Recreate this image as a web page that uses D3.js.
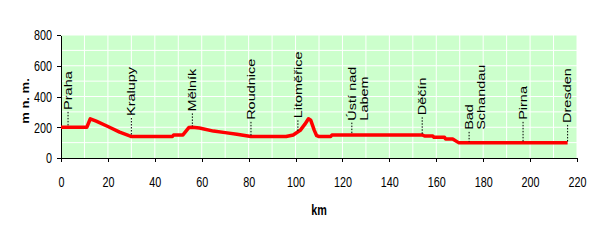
<!DOCTYPE html>
<html>
<head>
<meta charset="utf-8">
<script src="https://cdn.jsdelivr.net/npm/d3@7"></script>
<style>
    body { margin: 0; background: #ffffff; }
    svg { display: block; font-family: "Liberation Sans", Arial, sans-serif; }
    .axis path, .axis line { stroke: #000000; shape-rendering: crispEdges; }
    .axis text { font-size: 15px; fill: #000000; }
</style>
</head>
<body>
<svg id="chart" width="600" height="245"></svg>
<script>
// --- profile data (km from Praha, m above sea level) ---
const profileKm = [0, 11, 12.5, 15, 20, 25, 29, 30, 47.5, 48, 52, 54.5, 56, 59, 65, 70, 75, 81,
    96, 99, 102, 104, 105.5, 106.5, 108, 109, 110, 115, 115.5, 154, 155, 158.5, 159, 163.5, 164, 167, 169.5, 216];
const profileAlt = [200, 200, 255, 240, 205, 168, 145, 140, 140, 150, 150, 198, 200, 195, 175, 165, 155, 140,
    140, 150, 180, 220, 255, 245, 180, 145, 140, 140, 150, 150, 143, 143, 135, 135, 123, 123, 100, 100];

// --- towns along the route ---
const towns = [["Praha"], ["Kralupy"], ["Mělník"], ["Roudnice"], ["Litoměřice"],
    ["Ústí nad", "Labem"], ["Děčín"], ["Bad", "Schandau"], ["Pirna"], ["Dresden"]];
const townKm = [3, 30, 56, 81, 101, 124, 154, 174, 197, 216];
const labelAlt = [300, 260, 290, 235, 245, 230, 265, 170, 235, 215];

// --- axis ticks ---
const xTicks = [0, 20, 40, 60, 80, 100, 120, 140, 160, 180, 200, 220];
const yTicks = [0, 200, 400, 600, 800];

const svg = d3.select("#chart");
const margin = { top: 35, right: 23, bottom: 87, left: 61 };
const width = 600 - margin.left - margin.right;
const height = 245 - margin.top - margin.bottom;
const squeeze = 0.72; // reference text is horizontally compressed

const x = d3.scaleLinear().domain([0, 220]).range([0, width]);
const y = d3.scaleLinear().domain([0, 800]).range([height, 0]);

const g = svg.append("g").attr("transform", `translate(${margin.left},${margin.top})`);

// plot background + grid
g.append("rect").attr("width", width).attr("height", height).attr("fill", "#ccffcc");

g.append("g")
    .selectAll("line")
    .data(d3.range(10, 221, 10))
    .join("line")
    .attr("x1", (d) => x(d)).attr("x2", (d) => x(d))
    .attr("y1", 0).attr("y2", height)
    .attr("stroke", "#ffffff").attr("stroke-width", 1);

g.append("g")
    .selectAll("line")
    .data(d3.range(100, 801, 100))
    .join("line")
    .attr("x1", 0).attr("x2", width)
    .attr("y1", (d) => y(d)).attr("y2", (d) => y(d))
    .attr("stroke", "#ffffff").attr("stroke-width", 1);

// axes
const xAxis = g.append("g")
    .attr("class", "axis")
    .attr("transform", `translate(0,${height})`)
    .call(d3.axisBottom(x).tickValues(xTicks).tickSize(4).tickSizeOuter(0));
xAxis.selectAll("text")
    .attr("y", 29).attr("dy", 0)
    .attr("transform", `scale(${squeeze},1)`);

const yAxis = g.append("g")
    .attr("class", "axis")
    .call(d3.axisLeft(y).tickValues(yTicks).tickSize(4).tickSizeOuter(0));
yAxis.selectAll("text")
    .attr("x", -9 / squeeze)
    .attr("transform", `scale(${squeeze},1)`);

// profile line
const points = profileKm.map((k, i) => [k, profileAlt[i]]);
g.append("path")
    .datum(points)
    .attr("fill", "none")
    .attr("stroke", "#ff0000")
    .attr("stroke-width", 3.5)
    .attr("stroke-linejoin", "round")
    .attr("d", d3.line().x((d) => x(d[0])).y((d) => y(d[1])));

// town labels with dotted leaders
const altAt = (k) => {
    const i = d3.bisectRight(profileKm, k);
    if (i <= 0) return profileAlt[0];
    if (i >= profileKm.length) return profileAlt[profileAlt.length - 1];
    const t = (k - profileKm[i - 1]) / (profileKm[i] - profileKm[i - 1]);
    return profileAlt[i - 1] + t * (profileAlt[i] - profileAlt[i - 1]);
};

towns.forEach((lines, i) => {
    const px = x(townKm[i]);
    g.append("line")
        .attr("x1", px).attr("x2", px)
        .attr("y1", y(labelAlt[i])).attr("y2", y(altAt(townKm[i])) - 1)
        .attr("stroke", "#000000").attr("stroke-width", 1)
        .attr("stroke-dasharray", "1.5,1.5");

    const label = g.append("text")
        .attr("transform", `translate(${px},${y(labelAlt[i]) - 2}) rotate(-90) scale(1,${squeeze})`)
        .attr("font-size", 14.5)
        .attr("fill", "#000000");
    lines.forEach((t, j) => {
        label.append("tspan")
            .attr("x", 0)
            .attr("dy", j === 0 ? "0.36em" : "1.2em")
            .text(t);
    });
});

// axis titles
svg.append("text")
    .attr("transform", `translate(25,101) rotate(-90) scale(1,0.9)`)
    .attr("text-anchor", "middle")
    .attr("dy", "0.36em")
    .attr("font-size", 13)
    .attr("font-weight", "bold")
    .text("m n. m.");

svg.append("text")
    .attr("transform", `translate(${margin.left + width / 2},215) scale(${squeeze},1)`)
    .attr("text-anchor", "middle")
    .attr("font-size", 15)
    .attr("font-weight", "bold")
    .text("km");
</script>
</body>
</html>
